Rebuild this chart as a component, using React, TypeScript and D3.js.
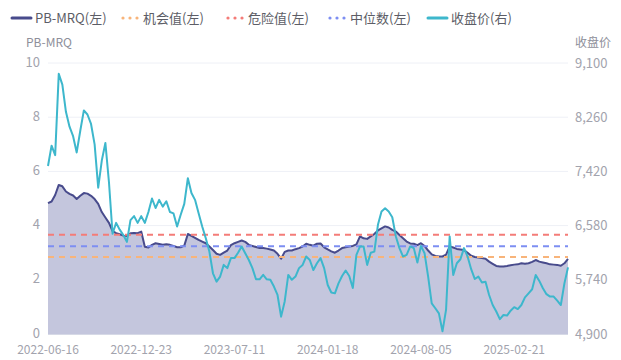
import React from "react";
import * as d3 from "d3";

// PB-MRQ, sampled every 5 trading days
const pbValues = [
  4.83, 4.89, 5.13, 5.5, 5.45, 5.26, 5.17, 5.11, 4.98, 5.1, 5.2, 5.18, 5.1, 4.98, 4.8, 4.5, 4.3, 4.1, 3.8, 3.72,
  3.68, 3.63, 3.62, 3.72, 3.73, 3.72, 3.78, 3.22, 3.19, 3.29, 3.35, 3.32, 3.29, 3.31, 3.29, 3.25, 3.2,
  3.2, 3.26, 3.69, 3.62, 3.55, 3.47, 3.41, 3.35, 3.23, 3.1, 2.96, 2.92, 3.0, 3.08, 3.28, 3.35, 3.4, 3.45, 3.4,
  3.29, 3.25, 3.21, 3.17, 3.17, 3.15, 3.12, 3.08, 2.96, 2.78, 3.03, 3.08, 3.08, 3.13, 3.17, 3.23, 3.33, 3.29,
  3.26, 3.33, 3.34, 3.2, 3.12, 3.05, 3.0, 3.08, 3.17, 3.2, 3.23, 3.25, 3.31, 3.6, 3.53, 3.51, 3.6, 3.69, 3.82,
  3.9, 3.97, 3.93, 3.84, 3.78, 3.65, 3.53, 3.41, 3.34, 3.33, 3.28, 3.35, 3.25, 3.08, 2.94, 2.88, 2.86,
  2.86, 2.93, 3.23, 3.19, 3.14, 3.12, 3.1, 3.0, 2.89, 2.84, 2.82, 2.8, 2.78, 2.67, 2.59, 2.51, 2.49, 2.49,
  2.51, 2.54, 2.56, 2.57, 2.61, 2.59, 2.61, 2.66, 2.73, 2.67, 2.64, 2.61, 2.57, 2.56, 2.55, 2.52, 2.61, 2.77,
];

// 收盘价, same sampling
const closeValues = [
  7504, 7819, 7672, 8932, 8764, 8344, 8113, 7966, 7714, 8050, 8365, 8302, 8155, 7840, 7168, 7588, 7861, 7252,
  6454, 6622, 6517, 6433, 6328, 6664, 6727, 6622, 6727, 6622, 6790, 7000, 6853, 6979, 6874, 6958, 6790, 6769, 6567,
  6748, 6916, 7315, 7084, 6979, 6773, 6567, 6383, 6177, 5841, 5711, 5790, 5971, 5921, 6076, 6076, 6160, 6257,
  6152, 6047, 5921, 5748, 5748, 5816, 5748, 5740, 5635, 5505, 5169, 5404, 5816, 5740, 5790, 5921, 5971, 6101, 6047,
  5891, 5996, 6076, 5921, 5660, 5543, 5530, 5685, 5799, 5883, 5799, 5614, 6126, 6257, 6257, 5971, 6160, 6177,
  6593, 6798, 6849, 6798, 6710, 6412, 6231, 6101, 6126, 6257, 6231, 6009, 6265, 6152, 5790, 5375, 5299, 5219,
  4942, 5278, 6412, 5816, 5996, 6059, 6231, 6101, 5904, 5753, 5790, 5698, 5711, 5505, 5349, 5249, 5131, 5194,
  5186, 5261, 5316, 5286, 5349, 5467, 5530, 5593, 5816, 5723, 5610, 5517, 5480, 5480, 5417, 5349, 5685, 5933,
];

const xTickLabels = ["2022-06-16", "2022-12-23", "2023-07-11", "2024-01-18", "2024-08-05", "2025-02-21"];
const xTickIndex = [0, 26, 52, 78, 104, 130];
const leftTicks = [0, 2, 4, 6, 8, 10];
const rightTicks = [4900, 5740, 6580, 7420, 8260, 9100];

const opportunityValue = 2.84; // 机会值
const dangerValue = 3.66; // 危险值
const medianValue = 3.24; // 中位数

const legendNames = ["PB-MRQ(左)", "机会值(左)", "危险值(左)", "中位数(左)", "收盘价(右)"];
const legendColors = ["#484b8c", "#f8b47a", "#f47c78", "#7d8ef2", "#3db7cc"];
const legendKinds = ["line", "dots", "dots", "dots", "line"];

const W = 621;
const H = 360;
const M = { left: 48, right: 568, top: 63, bottom: 334 };
const FONT = "'Noto Sans CJK SC', 'Noto Sans', sans-serif";

export default function App() {
  const x = d3.scaleLinear().domain([0, pbValues.length - 1]).range([M.left, M.right]);
  const yL = d3.scaleLinear().domain([0, 10]).range([M.bottom, M.top]);
  const yR = d3.scaleLinear().domain([4900, 9100]).range([M.bottom, M.top]);

  const area = d3
    .area<number>()
    .x((_, i) => x(i))
    .y0(yL(0))
    .y1((d) => yL(d));
  const pbLine = d3
    .line<number>()
    .x((_, i) => x(i))
    .y((d) => yL(d));
  const closeLine = d3
    .line<number>()
    .x((_, i) => x(i))
    .y((d) => yR(d));

  const fmt = d3.format(",");
  const refLines = [
    { v: dangerValue, c: legendColors[2] },
    { v: medianValue, c: legendColors[3] },
    { v: opportunityValue, c: legendColors[1] },
  ];

  const legendIconX = [12, 120, 225, 327, 428];
  const legendY = 18;

  return (
    <svg
      width={W}
      height={H}
      style={{ position: "absolute", left: 0, top: 0, background: "#fff" }}
      fontFamily={FONT}
    >
      {/* grid */}
      {leftTicks.map((t) => (
        <line key={t} x1={M.left} x2={M.right} y1={yL(t)} y2={yL(t)} stroke="#eef0f6" strokeWidth={1} />
      ))}
      {/* area + pb line */}
      <path d={area(pbValues) || ""} fill="#c4c6dd" />
      <path d={pbLine(pbValues) || ""} fill="none" stroke={legendColors[0]} strokeWidth={2} strokeLinejoin="round" />
      {/* reference lines */}
      {refLines.map((r) => (
        <line
          key={r.v}
          x1={M.left}
          x2={M.right}
          y1={yL(r.v)}
          y2={yL(r.v)}
          stroke={r.c}
          strokeWidth={2}
          strokeDasharray="6 5"
        />
      ))}
      {/* close line */}
      <path d={closeLine(closeValues) || ""} fill="none" stroke={legendColors[4]} strokeWidth={2} strokeLinejoin="round" />
      {/* x axis line */}
      <line x1={M.left} x2={M.right} y1={M.bottom + 0.5} y2={M.bottom + 0.5} stroke="#d6d9e6" />
      {/* left ticks */}
      {leftTicks.map((t) => (
        <text key={t} x={40} y={yL(t) - 1} dy="0.35em" textAnchor="end" fontSize={13} fill="#a2a3ad">
          {t}
        </text>
      ))}
      {/* right ticks */}
      {rightTicks.map((t) => (
        <text key={t} x={575} y={yR(t)} dy="0.35em" textAnchor="start" fontSize={13} fill="#a2a3ad">
          {fmt(t)}
        </text>
      ))}
      {/* x ticks */}
      {xTickIndex.map((idx, i) => (
        <text key={idx} x={x(idx)} y={350} dy="0.35em" textAnchor="middle" fontSize={12} fill="#a2a3ad">
          {xTickLabels[i]}
        </text>
      ))}
      {/* axis names */}
      <text x={26} y={43} dy="0.35em" fontSize={12} fill="#8e8f9a">PB-MRQ</text>
      <text x={611} y={43} dy="0.35em" fontSize={12} fill="#8e8f9a" textAnchor="end">收盘价</text>
      {/* legend */}
      {legendNames.map((n, i) => {
        const x0 = legendIconX[i];
        const c = legendColors[i];
        return (
          <g key={n}>
            {legendKinds[i] === "line" ? (
              <line x1={x0} x2={x0 + 19} y1={legendY} y2={legendY} stroke={c} strokeWidth={3} strokeLinecap="round" />
            ) : (
              [0, 1, 2].map((j) => <circle key={j} cx={x0 + 3 + j * 7} cy={legendY} r={1.6} fill={c} />)
            )}
            <text x={x0 + 23} y={legendY} dy="0.35em" fontSize={13} fill="#5c5d66">
              {n}
            </text>
          </g>
        );
      })}
    </svg>
  );
}
